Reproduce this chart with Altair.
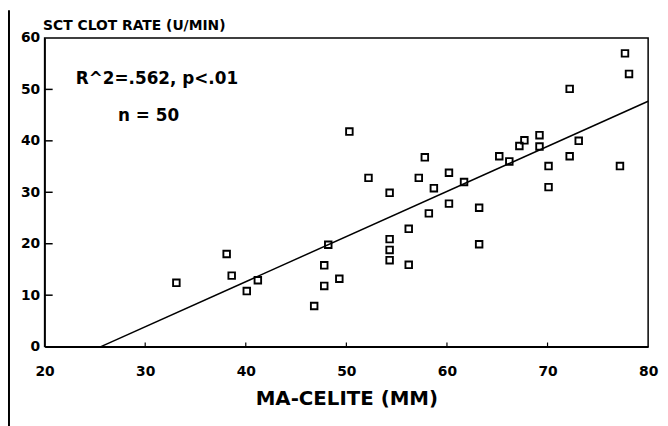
import altair as alt
import pandas as pd

# --- data ---
ma_celite = [33.1, 38.1, 38.6, 40.1, 41.2, 46.8, 47.8, 47.8, 48.2, 49.3,
             50.3, 52.2, 54.3, 54.3, 54.3, 54.3, 56.2, 56.2, 57.2, 57.8,
             58.2, 58.7, 60.2, 60.2, 61.7, 63.2, 63.2, 65.2, 66.2, 67.2,
             67.7, 69.2, 69.2, 70.1, 70.1, 72.2, 72.2, 73.1, 77.2, 77.7, 78.1]
clot_rate = [12.4, 18.0, 13.8, 10.8, 12.9, 7.9, 11.8, 15.8, 19.8, 13.2,
             41.8, 32.8, 16.8, 18.8, 20.9, 29.9, 15.9, 22.9, 32.8, 36.8,
             25.9, 30.8, 27.8, 33.8, 32.0, 19.9, 27.0, 37.0, 36.0, 39.0,
             40.1, 38.9, 41.1, 31.0, 35.1, 37.0, 50.1, 40.0, 35.1, 57.0, 53.0]
fit_x = [25.6, 80.0]
fit_y = [0.0, 47.7]
x_ticks = [20, 30, 40, 50, 60, 70, 80]
y_ticks = [0, 10, 20, 30, 40, 50, 60]
notes = ["R^2=.562, p<.01", "n = 50"]
note_x = [23.1, 27.3]
note_y = [52.1, 44.8]

FONT = "DejaVu Sans"

pts = pd.DataFrame({"x": ma_celite, "y": clot_rate})
fit = pd.DataFrame({"x": fit_x, "y": fit_y})
ytk = pd.DataFrame({"ty": y_ticks[1:-1]})
xtk = pd.DataFrame({"tx": x_ticks[1:-1]})
nt = pd.DataFrame({"x": note_x, "y": note_y, "label": notes})

xs = alt.Scale(domain=[20, 80], nice=False, zero=False)
ys = alt.Scale(domain=[0, 60], nice=False)

x_axis = alt.Axis(values=x_ticks, title="MA-CELITE (MM)", ticks=False,
                  labelPadding=25, labelFontSize=14, labelFontWeight="bold",
                  labelFont=FONT, labelColor="black", labelBaseline="middle",
                  domainColor="black", domainWidth=2, titleFont=FONT,
                  titleFontSize=20, titleFontWeight="bold", titleColor="black",
                  titleY=52, titleBaseline="middle", grid=False,
                  labelFlush=False)
y_axis = alt.Axis(values=y_ticks, title="SCT CLOT RATE (U/MIN)", ticks=False,
                  labelPadding=5, labelFontSize=14, labelFontWeight="bold",
                  labelFont=FONT, labelColor="black", domainColor="black",
                  domainWidth=1.5, titleFont=FONT, titleFontSize=14,
                  titleFontWeight="bold", titleColor="black", titleAngle=0,
                  titleAlign="left", titleBaseline="middle", titleX=-2,
                  titleY=-13, grid=False, labelFlush=False)

X = lambda f: alt.X(f, scale=xs, axis=x_axis)
Y = lambda f: alt.Y(f, scale=ys, axis=y_axis)

points = alt.Chart(pts).mark_point(
    shape="square", filled=False, size=44, strokeWidth=1.9,
    color="black", opacity=1
).encode(x=X("x:Q"), y=Y("y:Q"))

line = alt.Chart(fit).mark_line(color="black", strokeWidth=1.5).encode(
    x=X("x:Q"), y=Y("y:Q"))

# inward tick marks along the left axis (length ~0.8 x-units)
yticks = alt.Chart(ytk).mark_rule(color="black", strokeWidth=1.5).encode(
    y=Y("ty:Q"),
    x=alt.X(datum=x_ticks[0], scale=xs, axis=x_axis),
    x2=alt.datum(x_ticks[0] + 0.8))

# short inward tick marks along the bottom axis
xticks = alt.Chart(xtk).mark_rule(color="black", strokeWidth=1.2).encode(
    x=X("tx:Q"),
    y=alt.Y(datum=y_ticks[0], scale=ys, axis=y_axis),
    y2=alt.datum(y_ticks[0] + 0.8))

texts = alt.Chart(nt).mark_text(align="left", baseline="middle", fontSize=17,
                                fontWeight="bold", font=FONT,
                                color="black").encode(
    x=X("x:Q"), y=Y("y:Q"), text="label:N")

border = alt.Chart(fit.head(1)).mark_rule(color="black", strokeWidth=2).encode(
    x=alt.value(-36), y=alt.value(-28), y2=alt.value(395))

chart = alt.layer(line, points, yticks, xticks, texts, border).properties(
    width=610, height=312,
    autosize=alt.AutoSizeParams(type="none"),
    padding={"left": 37, "top": 28, "right": 12, "bottom": 82},
    background="white",
).configure_view(stroke="black", strokeWidth=1.5)

chart.save("out.html", embed_options={"renderer": "svg", "actions": False})
